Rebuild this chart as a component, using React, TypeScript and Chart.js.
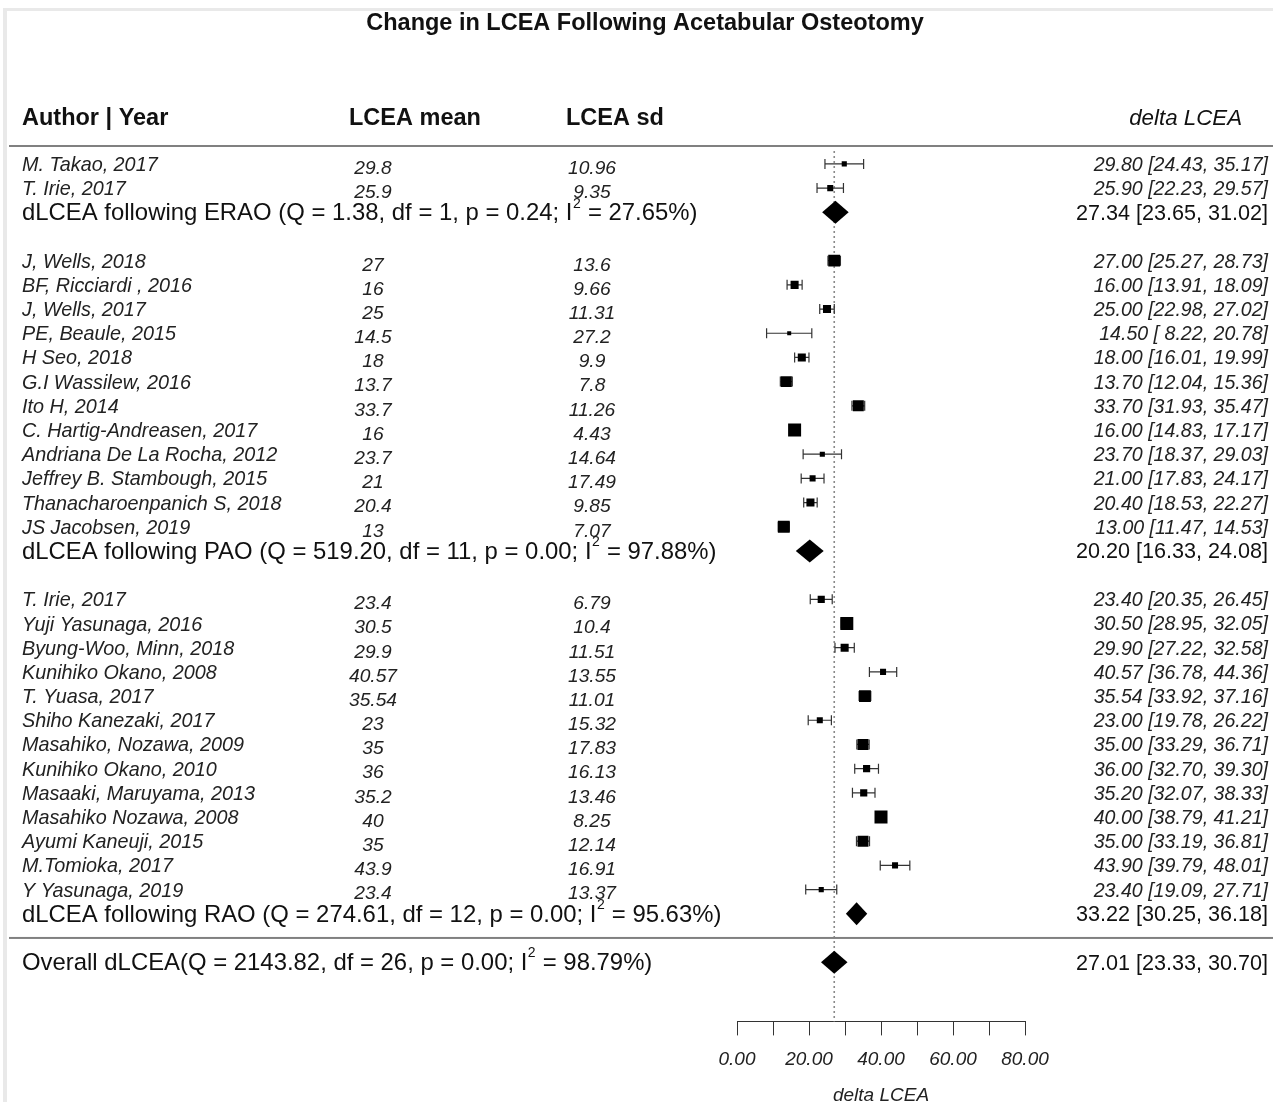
import React, { useEffect, useRef } from 'react';
import { Chart, registerables } from 'chart.js';

Chart.register(...registerables);

const FONT = '"Liberation Sans", Arial, Helvetica, sans-serif';

const titleText = 'Change in LCEA Following Acetabular Osteotomy';
const headerAuthor = 'Author | Year';
const headerMean = 'LCEA mean';
const headerSd = 'LCEA sd';
const headerEffect = 'delta LCEA';
const axisTitle = 'delta LCEA';

// subgroup summaries
const groupNames = ['ERAO', 'PAO', 'RAO'];
const groupQ = ['1.38', '519.20', '274.61'];
const groupDf = [1, 11, 12];
const groupP = ['0.24', '0.00', '0.00'];
const groupI2 = ['27.65', '97.88', '95.63'];
const groupEst = [27.34, 20.2, 33.22];
const groupLb = [23.65, 16.33, 30.25];
const groupUb = [31.02, 24.08, 36.18];

// overall summary
const overallQ = '2143.82';
const overallDf = 26;
const overallP = '0.00';
const overallI2 = '98.79';
const overallEst = 27.01;
const overallLb = 23.33;
const overallUb = 30.7;

// studies
const studyGroup = [0, 0, 1, 1, 1, 1, 1, 1, 1, 1, 1, 1, 1, 1, 2, 2, 2, 2, 2, 2, 2, 2, 2, 2, 2, 2, 2];
const studyAuthors = [
  'M. Takao, 2017',
  'T. Irie, 2017',
  'J, Wells, 2018',
  'BF, Ricciardi , 2016',
  'J, Wells, 2017',
  'PE, Beaule, 2015',
  'H Seo, 2018',
  'G.I Wassilew, 2016',
  'Ito H, 2014',
  'C. Hartig-Andreasen, 2017',
  'Andriana De La Rocha, 2012',
  'Jeffrey B. Stambough, 2015',
  'Thanacharoenpanich S, 2018',
  'JS Jacobsen, 2019',
  'T. Irie, 2017',
  'Yuji Yasunaga, 2016',
  'Byung-Woo, Minn, 2018',
  'Kunihiko Okano, 2008',
  'T. Yuasa, 2017',
  'Shiho Kanezaki, 2017',
  'Masahiko, Nozawa, 2009',
  'Kunihiko Okano, 2010',
  'Masaaki, Maruyama, 2013',
  'Masahiko Nozawa, 2008',
  'Ayumi Kaneuji, 2015',
  'M.Tomioka, 2017',
  'Y Yasunaga, 2019',
];
const studyMeans = [29.8, 25.9, 27, 16, 25, 14.5, 18, 13.7, 33.7, 16, 23.7, 21, 20.4, 13, 23.4, 30.5, 29.9, 40.57, 35.54, 23, 35, 36, 35.2, 40, 35, 43.9, 23.4];
const studySds = [10.96, 9.35, 13.6, 9.66, 11.31, 27.2, 9.9, 7.8, 11.26, 4.43, 14.64, 17.49, 9.85, 7.07, 6.79, 10.4, 11.51, 13.55, 11.01, 15.32, 17.83, 16.13, 13.46, 8.25, 12.14, 16.91, 13.37];
const studyEst = [29.8, 25.9, 27.0, 16.0, 25.0, 14.5, 18.0, 13.7, 33.7, 16.0, 23.7, 21.0, 20.4, 13.0, 23.4, 30.5, 29.9, 40.57, 35.54, 23.0, 35.0, 36.0, 35.2, 40.0, 35.0, 43.9, 23.4];
const studyLb = [24.43, 22.23, 25.27, 13.91, 22.98, 8.22, 16.01, 12.04, 31.93, 14.83, 18.37, 17.83, 18.53, 11.47, 20.35, 28.95, 27.22, 36.78, 33.92, 19.78, 33.29, 32.7, 32.07, 38.79, 33.19, 39.79, 19.09];
const studyUb = [35.17, 29.57, 28.73, 18.09, 27.02, 20.78, 19.99, 15.36, 35.47, 17.17, 29.03, 24.17, 22.27, 14.53, 26.45, 32.05, 32.58, 44.36, 37.16, 26.22, 36.71, 39.3, 38.33, 41.21, 36.81, 48.01, 27.71];
// relative weights (%)
const studyWeights = [2.2, 2.6, 5.2, 3.5, 3.5, 1.7, 3.5, 4.8, 4.8, 5.7, 2.2, 2.6, 3.5, 5.2, 3.1, 5.7, 3.5, 2.6, 5.2, 2.6, 4.8, 3.1, 3.1, 5.7, 4.8, 2.6, 2.2];

const xTicksMin = 0;
const xTicksMax = 80;
const xTickStep = 10;
const xLabelStep = 20;

// row layout derived from the group structure
function buildRows() {
  const study: number[] = [];
  const summary: number[] = [];
  let r = 0;
  for (let g = 0; g < groupNames.length; g++) {
    studyGroup.forEach((sg, i) => {
      if (sg === g) study[i] = r++;
    });
    summary[g] = r++;
    r++;
  }
  return { study, summary, overall: r };
}

const fmt = (v: number) => v.toFixed(2).padStart(5, ' ');
const ciText = (e: number, l: number, u: number) => `${e.toFixed(2)} [${fmt(l)}, ${fmt(u)}]`;

const TXT_DY = 1.5;

export default function App() {
  const canvasRef = useRef<HTMLCanvasElement | null>(null);

  useEffect(() => {
    const canvas = canvasRef.current;
    if (!canvas) return;
    const rows = buildRows();
    const wMin = Math.min(...studyWeights);
    const wMax = Math.max(...studyWeights);
    const sideOf = (w: number) => 4 + 9 * (w - wMin) / (wMax - wMin);

    const drawStat = (ctx: CanvasRenderingContext2D, x: number, y: number, before: string, after: string) => {
      ctx.textAlign = 'left';
      ctx.textBaseline = 'middle';
      ctx.font = `23.9px ${FONT}`;
      ctx.fillText(before, x, y);
      const w1 = ctx.measureText(before).width;
      ctx.font = `14px ${FONT}`;
      ctx.fillText('2', x + w1 + 0.5, y - 10);
      const w2 = ctx.measureText('2').width;
      ctx.font = `23.9px ${FONT}`;
      ctx.fillText(after, x + w1 + w2 + 1, y);
    };

    const forestPlugin = {
      id: 'forest',
      beforeDatasetsDraw(chart: any) {
        const ctx = chart.ctx as CanvasRenderingContext2D;
        const xs = chart.scales.x;
        const ys = chart.scales.y;
        const area = chart.chartArea;
        ctx.save();
        // reference line at overall estimate
        ctx.strokeStyle = '#8a8a8a';
        ctx.lineWidth = 1.6;
        ctx.setLineDash([2, 3]);
        const xr = xs.getPixelForValue(overallEst);
        ctx.beginPath();
        ctx.moveTo(xr, area.top + 4);
        ctx.lineTo(xr, area.bottom);
        ctx.stroke();
        ctx.setLineDash([]);
        // confidence intervals
        ctx.strokeStyle = '#333';
        ctx.lineWidth = 1.2;
        studyEst.forEach((_, i) => {
          const y = ys.getPixelForValue(rows.study[i]);
          const x1 = xs.getPixelForValue(studyLb[i]);
          const x2 = xs.getPixelForValue(studyUb[i]);
          ctx.beginPath();
          ctx.moveTo(x1, y);
          ctx.lineTo(x2, y);
          ctx.moveTo(x1, y - 5);
          ctx.lineTo(x1, y + 5);
          ctx.moveTo(x2, y - 5);
          ctx.lineTo(x2, y + 5);
          ctx.stroke();
        });
        ctx.restore();
      },
      afterDatasetsDraw(chart: any) {
        const ctx = chart.ctx as CanvasRenderingContext2D;
        const xs = chart.scales.x;
        const ys = chart.scales.y;
        ctx.save();
        ctx.fillStyle = '#000';
        const diamond = (row: number, e: number, l: number, u: number) => {
          const y = ys.getPixelForValue(row);
          const h = 11.5;
          ctx.beginPath();
          ctx.moveTo(xs.getPixelForValue(l), y);
          ctx.lineTo(xs.getPixelForValue(e), y - h);
          ctx.lineTo(xs.getPixelForValue(u), y);
          ctx.lineTo(xs.getPixelForValue(e), y + h);
          ctx.closePath();
          ctx.fill();
        };
        groupEst.forEach((e, g) => diamond(rows.summary[g], e, groupLb[g], groupUb[g]));
        diamond(rows.overall, overallEst, overallLb, overallUb);
        ctx.restore();
      },
      afterDraw(chart: any) {
        const ctx = chart.ctx as CanvasRenderingContext2D;
        const ys = chart.scales.y;
        ctx.save();
        // frame
        ctx.fillStyle = '#e9e9e9';
        ctx.fillRect(3, 8, 4, 1102);
        ctx.fillRect(3, 8, 1273, 3);
        // title
        ctx.fillStyle = '#111';
        ctx.textBaseline = 'middle';
        ctx.textAlign = 'center';
        ctx.font = `bold 23.5px ${FONT}`;
        ctx.fillText(titleText, 645, 22 + TXT_DY);
        // headers
        ctx.textAlign = 'left';
        ctx.fillText(headerAuthor, 22, 117 + TXT_DY);
        ctx.fillText(headerMean, 349, 117 + TXT_DY);
        ctx.fillText(headerSd, 566, 117 + TXT_DY);
        ctx.textAlign = 'right';
        ctx.font = `italic 22.3px ${FONT}`;
        ctx.fillText(headerEffect, 1242, 117 + TXT_DY);
        // separators
        ctx.fillStyle = '#808080';
        const top = chart.chartArea.top;
        ctx.fillRect(9, top - 2, 1273, 2);
        const sepY = (ys.getPixelForValue(rows.summary[groupNames.length - 1]) + ys.getPixelForValue(rows.overall)) / 2;
        ctx.fillRect(9, sepY - 1, 1273, 2);
        // study rows
        ctx.fillStyle = '#222';
        studyAuthors.forEach((a, i) => {
          const y = ys.getPixelForValue(rows.study[i]) + TXT_DY;
          ctx.font = `italic 19.8px ${FONT}`;
          ctx.textAlign = 'left';
          ctx.fillText(a, 22, y);
          ctx.font = `italic 19.2px ${FONT}`;
          ctx.textAlign = 'center';
          ctx.fillText(String(studyMeans[i]), 373, y + 3);
          ctx.fillText(String(studySds[i]), 592, y + 3);
          ctx.textAlign = 'right';
          ctx.font = `italic 19.6px ${FONT}`;
          ctx.fillText(ciText(studyEst[i], studyLb[i], studyUb[i]), 1268, y);
        });
        // summary rows
        ctx.fillStyle = '#111';
        groupNames.forEach((gname, g) => {
          const y = ys.getPixelForValue(rows.summary[g]) + TXT_DY;
          drawStat(ctx, 22, y, `dLCEA following ${gname} (Q = ${groupQ[g]}, df = ${groupDf[g]}, p = ${groupP[g]}; I`, ` = ${groupI2[g]}%)`);
          ctx.textAlign = 'right';
          ctx.font = `21.6px ${FONT}`;
          ctx.fillText(ciText(groupEst[g], groupLb[g], groupUb[g]), 1268, y);
        });
        const yo = ys.getPixelForValue(rows.overall) + TXT_DY;
        drawStat(ctx, 22, yo, `Overall dLCEA(Q = ${overallQ}, df = ${overallDf}, p = ${overallP}; I`, ` = ${overallI2}%)`);
        ctx.textAlign = 'right';
        ctx.font = `21.6px ${FONT}`;
        ctx.fillText(ciText(overallEst, overallLb, overallUb), 1268, yo);
        ctx.restore();
      },
    };

    const chart = new Chart(canvas, {
      type: 'scatter',
      data: {
        datasets: [
          {
            data: studyEst.map((e, i) => ({ x: e, y: rows.study[i] })),
            pointStyle: 'rect',
            pointRadius: studyWeights.map((w) => sideOf(w) / Math.SQRT2),
            backgroundColor: '#000',
            borderWidth: 0,
          },
        ],
      },
      options: {
        responsive: false,
        animation: false,
        events: [],
        layout: { padding: { left: 737, right: 248, top: 147, bottom: 23 } },
        plugins: { legend: { display: false }, tooltip: { enabled: false }, title: { display: false } },
        scales: {
          x: {
            type: 'linear',
            min: xTicksMin,
            max: xTicksMax,
            grid: { display: true, drawOnChartArea: false, drawTicks: true, tickLength: 14, color: '#333', lineWidth: 1 },
            border: { display: true, color: '#333', width: 1 },
            ticks: {
              stepSize: xTickStep,
              autoSkip: false,
              maxRotation: 0,
              padding: 13,
              color: '#222',
              font: { family: FONT, size: 19, style: 'italic' },
              callback: (v: any) => (Number(v) % xLabelStep === 0 ? Number(v).toFixed(2) : ''),
            },
            title: {
              display: true,
              text: axisTitle,
              color: '#222',
              font: { family: FONT, size: 19, style: 'italic' },
              padding: { top: 0, bottom: 0 },
            },
          },
          y: {
            type: 'linear',
            display: false,
            reverse: true,
            min: -0.7,
            max: 35.45,
          },
        },
      },
      plugins: [forestPlugin],
    } as any);
    return () => chart.destroy();
  }, []);

  return (
    <div style={{ position: 'absolute', left: 0, top: 0, width: 1273, height: 1102, overflow: 'hidden', background: '#fff' }}>
      <canvas ref={canvasRef} width={1273} height={1130} style={{ display: 'block' }} />
    </div>
  );
}
